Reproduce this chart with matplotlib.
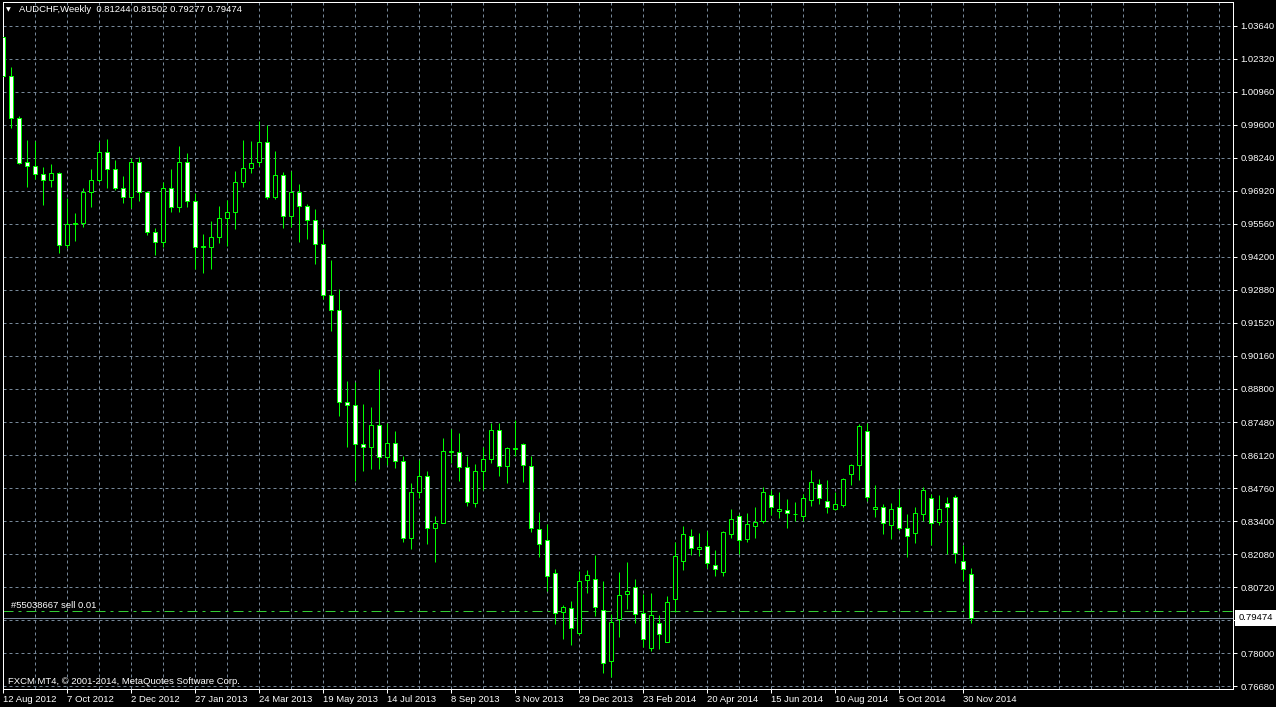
import numpy as np
import matplotlib
matplotlib.use("Agg")
import matplotlib.pyplot as plt
from matplotlib.patches import Rectangle
from matplotlib.transforms import blended_transform_factory

# === weekly AUDCHF candles, 12 Aug 2012 .. 7 Dec 2014 ===
opens = [1.0317, 1.0159, 0.9986, 0.9806, 0.9790, 0.9757, 0.9733, 0.9762, 0.9468, 0.9553,
         0.9557, 0.9684, 0.9733, 0.9847, 0.9778, 0.9700, 0.9664, 0.9806, 0.9684, 0.9521,
         0.9480, 0.9700, 0.9623, 0.9806, 0.9647, 0.9462, 0.9462, 0.9500, 0.9578, 0.9602,
         0.9725, 0.9782, 0.9806, 0.9888, 0.9664, 0.9755, 0.9586, 0.9684, 0.9627, 0.9570,
         0.9472, 0.9263, 0.9202, 0.8830, 0.8815, 0.8655, 0.8643, 0.8733, 0.8602, 0.8660,
         0.8586, 0.8272, 0.8460, 0.8525, 0.8313, 0.8333, 0.8625, 0.8623, 0.8562, 0.8415,
         0.8545, 0.8594, 0.8713, 0.8566, 0.8638, 0.8655, 0.8566, 0.8309, 0.8264, 0.8129,
         0.7972, 0.7986, 0.7886, 0.8100, 0.8104, 0.7978, 0.7772, 0.7941, 0.8043, 0.8072,
         0.7966, 0.7825, 0.7925, 0.7847, 0.8023, 0.8181, 0.8280, 0.8227, 0.8239, 0.8162,
         0.8136, 0.8288, 0.8362, 0.8268, 0.8321, 0.8341, 0.8447, 0.8382, 0.8386, 0.8371,
         0.8364, 0.8427, 0.8492, 0.8423, 0.8390, 0.8406, 0.8533, 0.8570, 0.8708, 0.8390,
         0.8398, 0.8325, 0.8398, 0.8313, 0.8292, 0.8370, 0.8435, 0.8337, 0.8415, 0.8439,
         0.8178, 0.81244]
highs = [1.0326, 1.0197, 0.9995, 0.9897, 0.9895, 0.9786, 0.9800, 0.9768, 0.9660, 0.9598,
         0.9700, 0.9779, 0.9891, 0.9902, 0.9816, 0.9751, 0.9823, 0.9829, 0.9691, 0.9537,
         0.9725, 0.9779, 0.9874, 0.9846, 0.9682, 0.9514, 0.9568, 0.9628, 0.9653, 0.9771,
         0.9897, 0.9895, 0.9975, 0.9959, 0.9853, 0.9766, 0.9772, 0.9718, 0.9636, 0.9615,
         0.9533, 0.9408, 0.9288, 0.8914, 0.8911, 0.8820, 0.8809, 0.8963, 0.8744, 0.8710,
         0.8608, 0.8496, 0.8591, 0.8545, 0.8363, 0.8680, 0.8717, 0.8700, 0.8608, 0.8574,
         0.8646, 0.8744, 0.8744, 0.8645, 0.8755, 0.8660, 0.8608, 0.8378, 0.8329, 0.8146,
         0.7999, 0.8016, 0.8138, 0.8142, 0.8202, 0.8097, 0.7963, 0.8134, 0.8175, 0.8104,
         0.8044, 0.8047, 0.7957, 0.8036, 0.8255, 0.8321, 0.8310, 0.8293, 0.8302, 0.8223,
         0.8302, 0.8391, 0.8371, 0.8375, 0.8400, 0.8480, 0.8469, 0.8460, 0.8431, 0.8419,
         0.8451, 0.8549, 0.8513, 0.8509, 0.8460, 0.8517, 0.8575, 0.8737, 0.8741, 0.8488,
         0.8411, 0.8415, 0.8472, 0.8370, 0.8398, 0.8480, 0.8451, 0.8447, 0.8439, 0.8447,
         0.8244, 0.81502]
lows = [1.0129, 0.9945, 0.9800, 0.9707, 0.9738, 0.9632, 0.9704, 0.9435, 0.9455, 0.9486,
        0.9541, 0.9625, 0.9725, 0.9703, 0.9693, 0.9639, 0.9619, 0.9648, 0.9510, 0.9428,
        0.9462, 0.9602, 0.9605, 0.9625, 0.9372, 0.9353, 0.9370, 0.9476, 0.9466, 0.9533,
        0.9707, 0.9762, 0.9793, 0.9657, 0.9657, 0.9540, 0.9544, 0.9482, 0.9495, 0.9393,
        0.9249, 0.9119, 0.8771, 0.8646, 0.8507, 0.8548, 0.8553, 0.8553, 0.8571, 0.8557,
        0.8258, 0.8227, 0.8435, 0.8247, 0.8174, 0.8333, 0.8578, 0.8507, 0.8405, 0.8398,
        0.8469, 0.8580, 0.8527, 0.8499, 0.8608, 0.8503, 0.8299, 0.8194, 0.8057, 0.7921,
        0.7861, 0.7836, 0.7877, 0.8050, 0.7956, 0.7723, 0.7707, 0.7870, 0.7983, 0.7927,
        0.7829, 0.7813, 0.7821, 0.7847, 0.7972, 0.8144, 0.8202, 0.8201, 0.8151, 0.8116,
        0.8116, 0.8275, 0.8206, 0.8258, 0.8274, 0.8333, 0.8366, 0.8353, 0.8315, 0.8341,
        0.8344, 0.8405, 0.8412, 0.8376, 0.8389, 0.8401, 0.8491, 0.8511, 0.8423, 0.8357,
        0.8288, 0.8270, 0.8306, 0.8197, 0.8254, 0.8341, 0.8246, 0.8325, 0.8206, 0.8172,
        0.8099, 0.79277]
closes = [1.0159, 0.9986, 0.9805, 0.9790, 0.9757, 0.9733, 0.9762, 0.9468, 0.9553, 0.9557,
          0.9684, 0.9733, 0.9847, 0.9778, 0.9700, 0.9664, 0.9806, 0.9684, 0.9521, 0.9480,
          0.9700, 0.9623, 0.9806, 0.9647, 0.9462, 0.9464, 0.9500, 0.9578, 0.9602, 0.9725,
          0.9782, 0.9802, 0.9888, 0.9664, 0.9755, 0.9586, 0.9684, 0.9627, 0.9570, 0.9472,
          0.9263, 0.9202, 0.8829, 0.8815, 0.8655, 0.8643, 0.8733, 0.8602, 0.8660, 0.8586,
          0.8272, 0.8460, 0.8525, 0.8313, 0.8333, 0.8627, 0.8627, 0.8562, 0.8419, 0.8545,
          0.8594, 0.8713, 0.8566, 0.8639, 0.8640, 0.8570, 0.8312, 0.8247, 0.8117, 0.7968,
          0.7990, 0.7904, 0.8096, 0.8121, 0.7990, 0.7762, 0.7929, 0.8039, 0.8055, 0.7962,
          0.7860, 0.7957, 0.7880, 0.8011, 0.8198, 0.8288, 0.8231, 0.8235, 0.8169, 0.8145,
          0.8296, 0.8349, 0.8264, 0.8329, 0.8337, 0.8460, 0.8398, 0.8390, 0.8374, 0.8372,
          0.8435, 0.8500, 0.8435, 0.8398, 0.8411, 0.8513, 0.8570, 0.8729, 0.8439, 0.8398,
          0.8333, 0.8390, 0.8313, 0.8280, 0.8374, 0.8468, 0.8333, 0.8390, 0.8398, 0.8211,
          0.8145, 0.79474]

date_labels = ["12 Aug 2012", "7 Oct 2012", "2 Dec 2012", "27 Jan 2013", "24 Mar 2013",
               "19 May 2013", "14 Jul 2013", "8 Sep 2013", "3 Nov 2013", "29 Dec 2013",
               "23 Feb 2014", "20 Apr 2014", "15 Jun 2014", "10 Aug 2014", "5 Oct 2014",
               "30 Nov 2014"]
price_labels = ["0.76680", "0.78000", "0.79360", "0.80720", "0.82080", "0.83400", "0.84760",
                "0.86120", "0.87480", "0.88800", "0.90160", "0.91520", "0.92880", "0.94200",
                "0.95560", "0.96920", "0.98240", "0.99600", "1.00960", "1.02320", "1.03640"]

order_price = 0.7975
header = "AUDCHF,Weekly  0.81244 0.81502 0.79277 0.79474"
order_text = "#55038667 sell 0.01"
copyright_text = "FXCM MT4, \u00a9 2001-2014, MetaQuotes Software Corp."

# === style ===
W, H, DPI = 1276, 707, 100
PX = 72 / DPI
LIME = "#00ff00"
GRID = "#778899"
FONT = "Liberation Sans"
FS = 6.8

plt.rcParams["font.family"] = [FONT, "DejaVu Sans"]

fig = plt.figure(figsize=(W / DPI, H / DPI), dpi=DPI, facecolor="black")
ax = fig.add_axes([2.7 / W, 1 - 689 / H, 1230.6 / W, 686.7 / H])
ax.set_facecolor("black")
ax.set_xlim(-0.075, 153.75)
ax.set_ylim(0.76567, 1.04595)

levels = np.linspace(float(price_labels[0]), float(price_labels[-1]), len(price_labels))
step = levels[1] - levels[0]
for lv in levels:
    ax.axhline(lv, color=GRID, lw=PX, dashes=(3, 3), zorder=0)
for xv in range(0, 154, 4):
    ax.axvline(xv, color=GRID, lw=PX, dashes=(3, 3), zorder=0)

# trade level and bid line
ax.axhline(order_price, color="#33cc33", lw=PX, dashes=(10, 5, 3, 5), zorder=1)
ax.axhline(closes[-1], color=GRID, lw=PX, zorder=1)

# candles
idx = np.arange(len(opens))
ax.vlines(idx, lows, highs, color=LIME, lw=PX, zorder=2)
for i, (o, c) in enumerate(zip(opens, closes)):
    body_fc = "white" if c < o else "black"
    ax.add_patch(Rectangle((i - 0.25, min(o, c)), 0.5, abs(c - o),
                           facecolor=body_fc, edgecolor=LIME, lw=PX, zorder=3))

# axes
for s in ax.spines.values():
    s.set_color("white")
    s.set_linewidth(PX)
ax.yaxis.tick_right()
ax.set_yticks(levels)
# the level hidden behind the current price box gets no label
shown = [lab if abs(lv - closes[-1]) > step / 2 else "" for lab, lv in zip(price_labels, levels)]
ax.set_yticklabels(shown)
ax.set_xticks(np.arange(len(date_labels)) * 8)
ax.set_xticklabels(date_labels)
for lab in ax.get_xticklabels():
    lab.set_horizontalalignment("left")
ax.tick_params(axis="both", colors="white", labelcolor="white", labelsize=FS,
               width=PX, length=3)
ax.tick_params(axis="y", pad=2)
ax.tick_params(axis="x", pad=1)

# current price box
tr = blended_transform_factory(ax.transAxes, ax.transData)
ax.text(1.0042, closes[-1], f"{closes[-1]:.5f}", transform=tr, ha="left", va="center",
        fontsize=FS, color="black", zorder=10, clip_on=False,
        bbox=dict(boxstyle="square,pad=0.35", fc="white", ec="none"))

# texts
fig.text(6 / W, 1 - 10 / H, "\u25bc", fontsize=4.5, color="white", va="center", ha="left",
         family="DejaVu Sans")
fig.text(19 / W, 1 - 10 / H, header, fontsize=FS, color="white", va="center", ha="left")
fig.text(11 / W, 1 - 605 / H, order_text, fontsize=FS, color="white", va="center", ha="left")
fig.text(8 / W, 1 - 682 / H, copyright_text, fontsize=FS, color="white", va="center", ha="left")

fig.savefig("out.png", dpi=DPI, facecolor="black")
